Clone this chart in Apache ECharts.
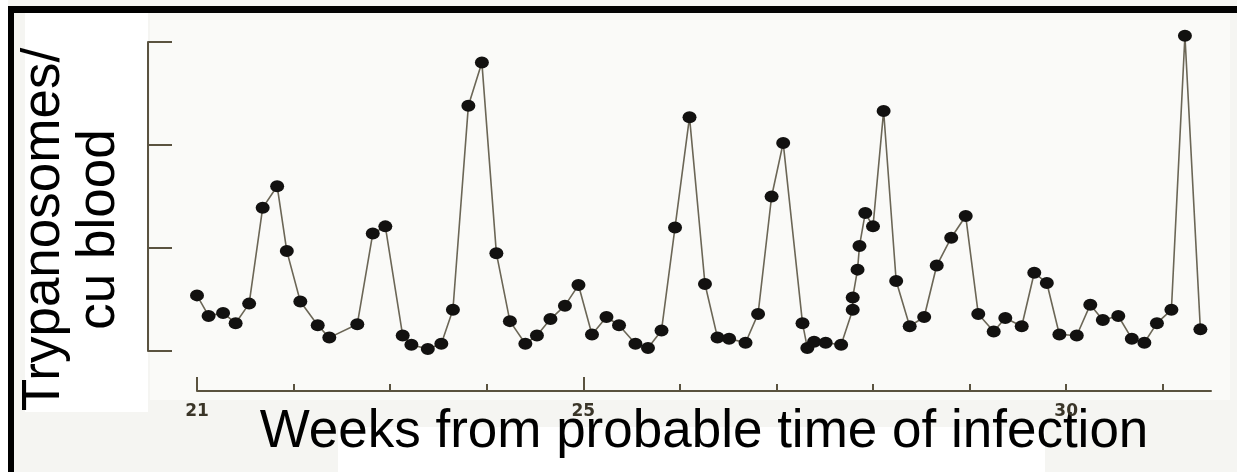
<!DOCTYPE html>
<html>
<head>
<meta charset="utf-8">
<script src="https://cdn.jsdelivr.net/npm/echarts@6/dist/echarts.min.js"></script>
<style>
  html, body { margin: 0; padding: 0; background: #f5f5f2; }
  #chart { width: 1237px; height: 472px; }
</style>
</head>
<body>
<div id="chart"></div>
<script>
// Weeks from probable time of infection (x positions of each sample)
const weeks = [
  21.00,21.12,21.27,21.40,21.54,21.68,21.83,21.93,22.07,22.25,
  22.37,22.66,22.82,22.95,23.13,23.22,23.39,23.53,23.65,23.81,
  23.95,24.10,24.24,24.40,24.52,24.66,24.81,24.95,25.09,25.24,
  25.37,25.54,25.67,25.81,25.95,26.10,26.26,26.39,26.51,26.68,
  26.81,26.95,27.07,27.27,27.32,27.39,27.51,27.67,27.79,27.79,
  27.84,27.86,27.92,28.00,28.11,28.24,28.38,28.53,28.66,28.81,
  28.96,29.09,29.25,29.37,29.54,29.67,29.80,29.93,30.11,30.25,
  30.38,30.54,30.68,30.81,30.94,31.09,31.23,31.39
];
// Trypanosomes per cu blood (relative units, one unit per y tick)
const counts = [
  0.54,0.34,0.37,0.27,0.46,1.39,1.60,0.97,0.48,0.25,
  0.13,0.26,1.14,1.21,0.15,0.06,0.02,0.07,0.40,2.38,
  2.80,0.95,0.29,0.07,0.15,0.31,0.44,0.64,0.16,0.33,
  0.25,0.07,0.03,0.20,1.20,2.27,0.65,0.13,0.12,0.08,
  0.36,1.50,2.02,0.27,0.03,0.09,0.08,0.06,0.40,0.52,
  0.79,1.02,1.34,1.21,2.33,0.68,0.24,0.33,0.83,1.10,
  1.31,0.36,0.19,0.32,0.24,0.76,0.66,0.16,0.15,0.45,
  0.30,0.34,0.12,0.08,0.27,0.40,3.06,0.21
];
const weekTicks = [21,22,23,24,25,26,27,28,29,30,31];
const majorTicks = [21,25];
const weekLabels = [21,25,30];
const yTitle = 'Trypanosomes/\ncu blood';
const xTitle = 'Weeks from probable time of infection';

const pts = weeks.map((w, i) => [w, counts[i]]);
const axisColor = '#5a5340';

const chart = echarts.init(document.getElementById('chart'), null, { renderer: 'canvas' });
chart.setOption({
  backgroundColor: '#f5f5f2',
  animation: false,
  graphic: [
    { type: 'rect', z: -5, shape: { x: 0, y: 0, width: 8, height: 472 }, style: { fill: '#ffffff' } },
    { type: 'rect', z: -5, shape: { x: 150, y: 20, width: 1080, height: 380 }, style: { fill: '#fafaf8' } },
    { type: 'rect', z: -4, shape: { x: 25, y: 13, width: 123, height: 399 }, style: { fill: '#ffffff' } },
    { type: 'rect', z: -4, shape: { x: 338, y: 427, width: 707, height: 45 }, style: { fill: '#ffffff' } },
    { type: 'rect', z: 20, shape: { x: 8, y: 6, width: 1229, height: 7 }, style: { fill: '#000000' } },
    { type: 'rect', z: 20, shape: { x: 8, y: 6, width: 6, height: 466 }, style: { fill: '#000000' } }
  ],
  grid: { left: 197, right: 26, top: 42, bottom: 121, containLabel: false, outerBoundsMode: 'none' },
  xAxis: [
    {
      type: 'value', min: 21, max: 31.5, interval: 1, position: 'bottom', offset: 40, z: 5,
      axisLine: { show: true, onZero: false, lineStyle: { color: axisColor, width: 2 } },
      axisTick: { show: true, inside: true, length: 7, customValues: weekTicks, lineStyle: { color: axisColor, width: 2 } },
      axisLabel: { show: true, customValues: weekLabels, margin: 12, fontSize: 17, fontWeight: 'bold',
                   fontFamily: 'DejaVu Sans', color: '#3a3528' },
      splitLine: { show: false },
      name: xTitle, nameLocation: 'middle', nameGap: 15, nameMoveOverlap: false,
      nameTextStyle: { fontSize: 53, lineHeight: 53, color: '#000000', fontFamily: 'Liberation Sans, Arial, sans-serif' }
    },
    {
      type: 'value', min: 21, max: 31.5, interval: 1, position: 'bottom', offset: 40, z: 5,
      axisLine: { show: false, onZero: false },
      axisTick: { show: true, inside: true, length: 14, customValues: majorTicks, lineStyle: { color: axisColor, width: 2 } },
      axisLabel: { show: false },
      splitLine: { show: false }
    }
  ],
  yAxis: {
    type: 'value', min: 0, max: 3, interval: 1, position: 'left', offset: 49, z: 5,
    axisLine: { show: true, onZero: false, lineStyle: { color: axisColor, width: 2 } },
    axisTick: { show: true, inside: true, length: 24, lineStyle: { color: axisColor, width: 2 } },
    axisLabel: { show: false },
    splitLine: { show: false },
    name: yTitle, nameLocation: 'middle', nameRotate: 90, nameGap: 21, nameMoveOverlap: false,
    nameTextStyle: { fontSize: 53, lineHeight: 55, color: '#000000', align: 'center',
                     fontFamily: 'Liberation Sans, Arial, sans-serif', padding: [0, 66, 0, 0] }
  },
  series: [{
    type: 'line',
    xAxisIndex: 0,
    data: pts,
    clip: false,
    symbol: 'circle',
    symbolSize: [14, 12],
    showAllSymbol: true,
    lineStyle: { color: '#6b6656', width: 1.6 },
    itemStyle: { color: '#121110' },
    z: 3
  }]
});
</script>
</body>
</html>
